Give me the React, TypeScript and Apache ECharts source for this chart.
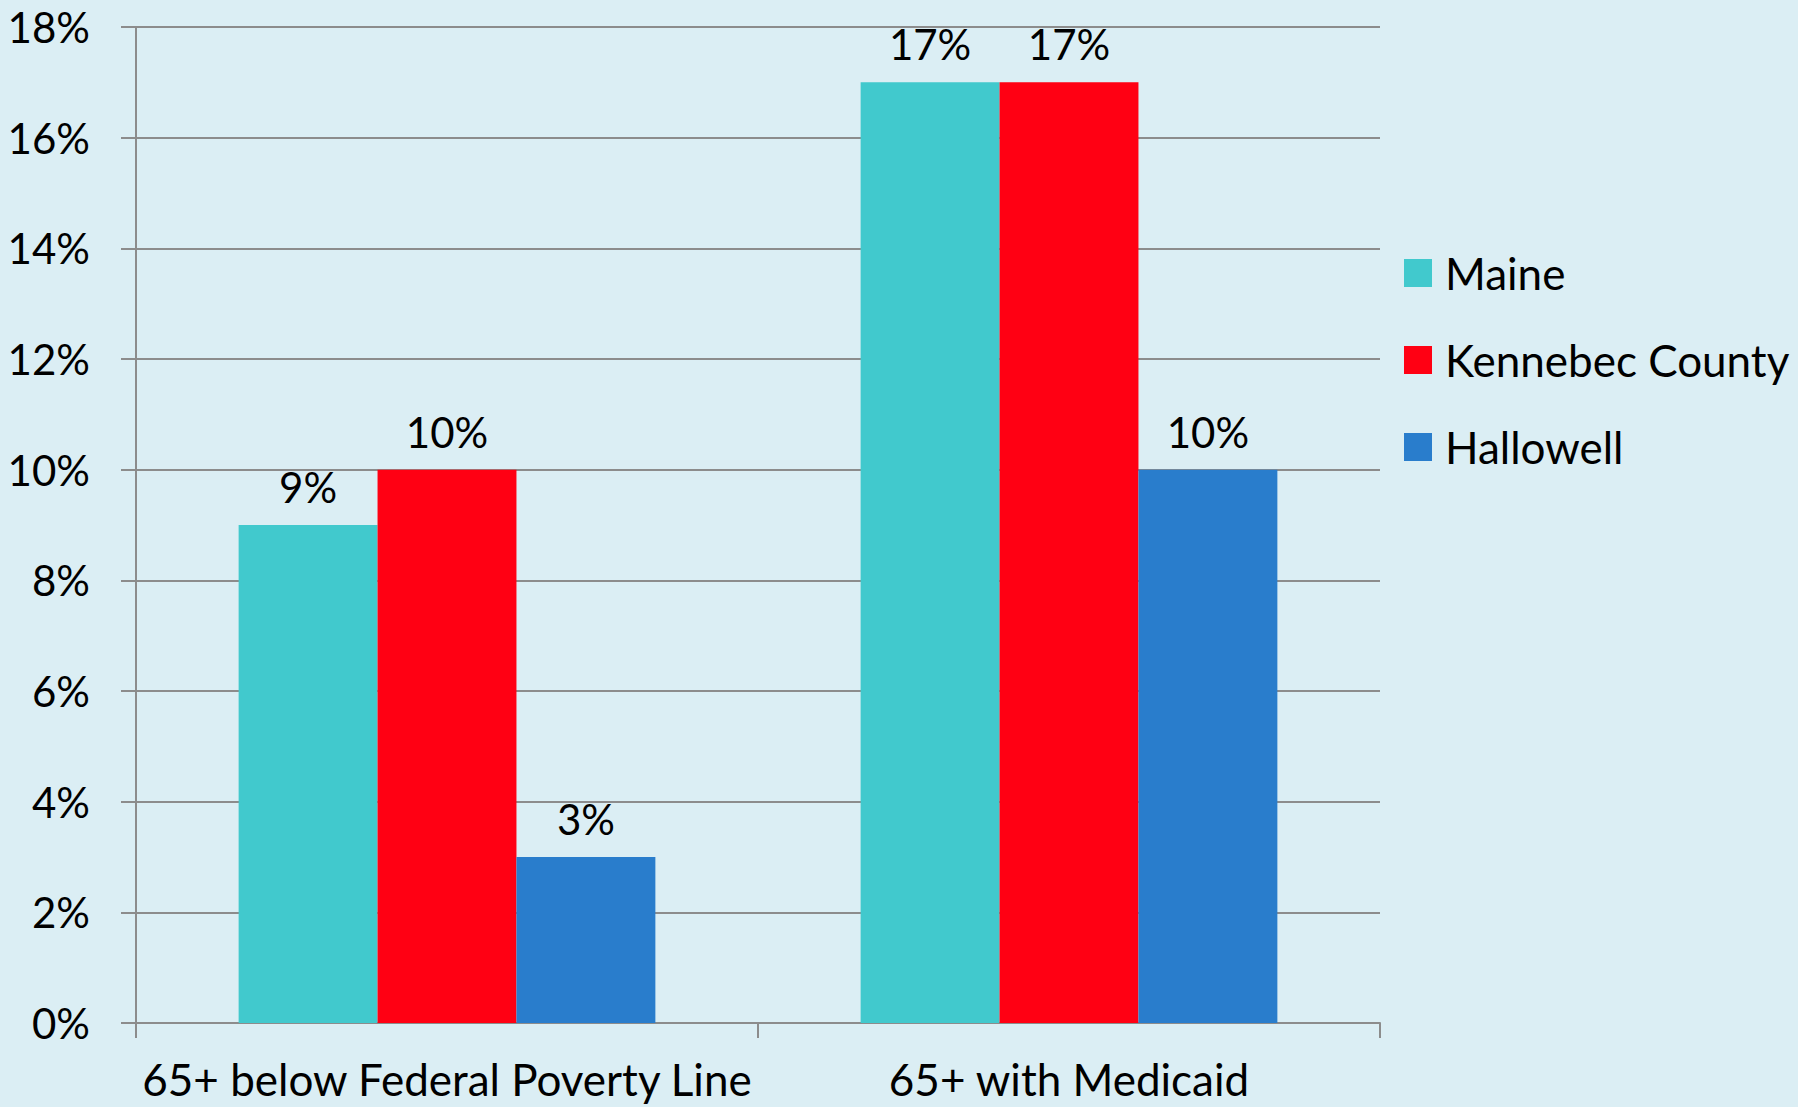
import React, { useEffect, useRef } from "react";
import * as echarts from "echarts";

const categories = ["65+ below Federal Poverty Line", "65+ with Medicaid"];
const seriesNames = ["Maine", "Kennebec County", "Hallowell"];
const maineValues = [9, 17];
const kennebecValues = [10, 17];
const hallowellValues = [3, 10];
const seriesColors = ["#41C9CD", "#FF0013", "#297DCC"];

const FONT = "Lato";

export default function App() {
  const ref = useRef<HTMLDivElement>(null);
  useEffect(() => {
    document.body.style.margin = "0";
    const chart = echarts.init(ref.current!, null, { renderer: "svg" });
    const values = [maineValues, kennebecValues, hallowellValues];
    chart.setOption({
      animation: false,
      backgroundColor: "#DBEEF4",
      textStyle: { fontFamily: FONT, color: "#000" },
      grid: { left: 136, right: 418, top: 27, bottom: 84, containLabel: false },
      legend: {
        orient: "vertical",
        left: 1399,
        top: 246,
        itemWidth: 28,
        itemHeight: 28,
        itemGap: 43,
        icon: "rect",
        data: seriesNames,
        textStyle: {
          fontFamily: FONT,
          fontSize: 44,
          lineHeight: 44,
          color: "#000",
          padding: [0, 0, 0, 8],
        },
      },
      xAxis: {
        type: "category",
        data: categories,
        axisLine: { show: true, lineStyle: { color: "#8C8C8C", width: 2 } },
        axisTick: { show: true, length: 15, lineStyle: { color: "#8C8C8C", width: 2 } },
        axisLabel: {
          fontFamily: FONT,
          fontSize: 44,
          lineHeight: 44,
          color: "#000",
          margin: 34,
          interval: 0,
        },
      },
      yAxis: {
        type: "value",
        min: 0,
        max: 18,
        interval: 2,
        axisLine: { show: true, lineStyle: { color: "#8C8C8C", width: 2 } },
        axisTick: { show: true, length: 15, lineStyle: { color: "#8C8C8C", width: 2 } },
        splitLine: { show: true, lineStyle: { color: "#8C8C8C", width: 2 } },
        axisLabel: {
          fontFamily: FONT,
          fontSize: 42,
          color: "#000",
          margin: 46,
          formatter: (v: number) => `${v}%`,
        },
      },
      series: seriesNames.map((name, i) => ({
        name,
        type: "bar",
        data: values[i],
        barGap: "0%",
        barCategoryGap: "33%",
        itemStyle: { color: seriesColors[i] },
        label: {
          show: true,
          position: "top",
          distance: 17,
          fontFamily: FONT,
          fontSize: 42,
          color: "#000",
          formatter: (p: any) => `${p.value}%`,
        },
      })),
    });
    return () => chart.dispose();
  }, []);
  return <div ref={ref} style={{ width: 1798, height: 1107 }} />;
}
